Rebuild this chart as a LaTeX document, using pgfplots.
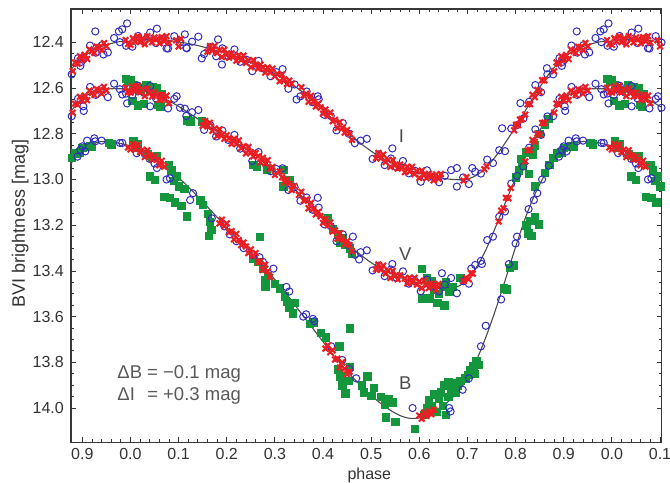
\documentclass[border=0pt]{standalone}
\usepackage{fontspec}
\setmainfont{Liberation Sans}
\usepackage{pgfplots}
\usepackage{pgfplotstable}
\pgfplotsset{compat=1.18}
\definecolor{cblue}{RGB}{50,45,190}
\definecolor{cred}{RGB}{235,30,35}
\definecolor{cgreen}{RGB}{20,150,60}
\definecolor{axgray}{RGB}{55,55,55}

% red crosses (phase 0..1), I, V, B bands
\pgfplotstableread{
x y
0.000 12.411
0.005 12.382
0.010 12.397
0.015 12.373
0.020 12.399
0.025 12.383
0.030 12.408
0.035 12.373
0.040 12.388
0.045 12.400
0.050 12.379
0.055 12.386
0.060 12.404
0.065 12.377
0.070 12.395
0.075 12.373
0.080 12.402
0.095 12.391
0.100 12.418
0.105 12.385
0.160 12.441
0.165 12.416
0.170 12.436
0.175 12.416
0.180 12.447
0.185 12.434
0.190 12.464
0.195 12.432
0.200 12.451
0.205 12.467
0.210 12.448
0.215 12.459
0.220 12.480
0.225 12.456
0.230 12.477
0.235 12.458
0.240 12.490
0.245 12.478
0.250 12.509
0.255 12.478
0.260 12.498
0.265 12.515
0.270 12.498
0.275 12.509
0.280 12.532
0.285 12.510
0.290 12.532
0.295 12.515
0.300 12.548
0.305 12.538
0.310 12.570
0.315 12.541
0.320 12.563
0.325 12.582
0.330 12.567
0.335 12.581
0.355 12.596
0.360 12.632
0.365 12.625
0.370 12.660
0.375 12.634
0.380 12.659
0.385 12.681
0.390 12.668
0.395 12.685
0.400 12.712
0.405 12.694
0.410 12.721
0.415 12.707
0.420 12.745
0.425 12.739
0.430 12.774
0.435 12.749
0.440 12.774
0.445 12.795
0.450 12.783
0.455 12.799
0.460 12.826
0.510 12.906
0.515 12.884
0.520 12.908
0.525 12.891
0.530 12.924
0.535 12.914
0.540 12.945
0.545 12.915
0.550 12.936
0.555 12.952
0.560 12.935
0.565 12.946
0.570 12.968
0.575 12.944
0.580 12.965
0.585 12.945
0.590 12.977
0.595 12.964
0.600 12.993
0.605 12.961
0.610 12.980
0.615 12.994
0.620 12.975
0.625 12.984
0.630 13.004
0.635 12.978
0.640 12.997
0.645 12.976
0.692 13.005
0.698 12.990
0.735 12.955
0.740 12.942
0.797 12.785
0.801 12.760
0.805 12.762
0.809 12.738
0.813 12.735
0.820 12.716
0.825 12.671
0.830 12.670
0.835 12.630
0.840 12.640
0.845 12.608
0.850 12.618
0.855 12.566
0.860 12.566
0.880 12.526
0.885 12.488
0.890 12.494
0.895 12.461
0.900 12.478
0.905 12.455
0.910 12.473
0.915 12.431
0.920 12.439
0.925 12.446
0.930 12.419
0.935 12.421
0.940 12.434
0.945 12.403
0.950 12.417
0.990 12.390
0.995 12.407
0.000 12.620
0.005 12.593
0.010 12.612
0.015 12.590
0.020 12.619
0.025 12.606
0.030 12.635
0.035 12.602
0.040 12.621
0.045 12.637
0.050 12.619
0.055 12.630
0.060 12.652
0.065 12.629
0.070 12.651
0.075 12.633
0.080 12.666
0.990 12.598
0.995 12.618
0.150 12.765
0.155 12.744
0.160 12.768
0.165 12.752
0.170 12.787
0.175 12.777
0.180 12.810
0.185 12.781
0.190 12.804
0.195 12.822
0.200 12.806
0.205 12.819
0.210 12.844
0.215 12.822
0.220 12.845
0.225 12.829
0.230 12.863
0.235 12.854
0.240 12.886
0.245 12.858
0.250 12.881
0.255 12.899
0.260 12.884
0.265 12.899
0.270 12.925
0.275 12.905
0.280 12.930
0.285 12.916
0.290 12.953
0.295 12.945
0.300 12.980
0.310 12.965
0.315 12.990
0.320 13.012
0.325 13.000
0.330 13.018
0.335 13.046
0.340 13.028
0.350 13.067
0.355 13.054
0.360 13.093
0.365 13.088
0.370 13.126
0.375 13.102
0.380 13.129
0.385 13.153
0.390 13.142
0.395 13.161
0.400 13.190
0.405 13.173
0.410 13.201
0.415 13.189
0.420 13.228
0.425 13.223
0.430 13.259
0.435 13.235
0.440 13.261
0.445 13.283
0.450 13.270
0.455 13.287
0.460 13.314
0.510 13.393
0.515 13.372
0.520 13.395
0.525 13.377
0.530 13.411
0.535 13.400
0.540 13.431
0.545 13.400
0.550 13.421
0.555 13.437
0.560 13.419
0.570 13.433
0.575 13.455
0.580 13.430
0.585 13.450
0.590 13.430
0.595 13.460
0.600 13.447
0.605 13.475
0.610 13.443
0.615 13.461
0.620 13.475
0.625 13.455
0.630 13.464
0.635 13.483
0.640 13.457
0.692 13.445
0.697 13.430
0.702 13.436
0.707 13.410
0.711 13.412
0.765 13.184
0.770 13.136
0.775 13.126
0.780 13.080
0.785 13.082
0.790 13.037
0.820 12.921
0.825 12.873
0.830 12.870
0.835 12.827
0.840 12.835
0.845 12.799
0.850 12.805
0.855 12.753
0.860 12.751
0.880 12.708
0.885 12.668
0.890 12.673
0.895 12.638
0.900 12.655
0.905 12.633
0.910 12.653
0.915 12.611
0.920 12.621
0.925 12.630
0.930 12.605
0.935 12.609
0.940 12.624
0.945 12.595
0.950 12.611
0.000 12.869
0.005 12.845
0.010 12.867
0.015 12.848
0.020 12.880
0.025 12.870
0.030 12.902
0.035 12.872
0.040 12.894
0.045 12.913
0.050 12.899
0.055 12.913
0.060 12.938
0.065 12.918
0.070 12.944
0.995 12.860
0.185 13.192
0.190 13.176
0.195 13.204
0.200 13.192
0.205 13.231
0.210 13.226
0.215 13.262
0.220 13.238
0.225 13.265
0.230 13.287
0.235 13.276
0.240 13.293
0.245 13.322
0.250 13.306
0.255 13.334
0.260 13.322
0.265 13.362
0.270 13.358
0.275 13.396
0.280 13.373
0.285 13.402
0.290 13.426
0.405 13.740
0.410 13.726
0.415 13.756
0.420 13.747
0.425 13.788
0.430 13.784
0.435 13.823
0.440 13.800
0.445 13.828
0.450 13.852
0.455 13.841
0.600 14.033
0.605 14.047
0.610 14.020
0.615 14.035
0.620 14.015
0.625 14.027
0.630 14.007
}\Tred

% blue open circles (phase 0..1)
\pgfplotstableread{
x y
0.004 12.419
0.016 12.372
0.028 12.396
0.041 12.357
0.053 12.403
0.066 12.384
0.078 12.427
0.091 12.373
0.103 12.401
0.116 12.424
0.128 12.397
0.141 12.375
0.153 12.451
0.166 12.421
0.178 12.461
0.191 12.426
0.203 12.460
0.216 12.431
0.228 12.485
0.241 12.476
0.253 12.526
0.266 12.481
0.278 12.516
0.291 12.548
0.303 12.530
0.316 12.517
0.328 12.603
0.341 12.584
0.353 12.636
0.366 12.615
0.378 12.662
0.391 12.649
0.403 12.717
0.416 12.722
0.428 12.785
0.441 12.753
0.453 12.799
0.466 12.841
0.478 12.830
0.491 12.822
0.503 12.910
0.516 12.890
0.528 12.937
0.541 12.908
0.553 12.946
0.566 12.919
0.578 12.973
0.591 12.962
0.603 13.010
0.616 12.960
0.628 12.989
0.641 13.012
0.653 12.984
0.666 12.959
0.678 13.031
0.691 12.991
0.703 13.020
0.716 12.966
0.728 12.974
0.741 12.913
0.753 12.928
0.766 12.872
0.778 12.876
0.791 12.777
0.803 12.762
0.816 12.734
0.828 12.660
0.841 12.587
0.853 12.618
0.866 12.540
0.878 12.540
0.891 12.469
0.903 12.472
0.916 12.414
0.928 12.445
0.941 12.412
0.953 12.444
0.966 12.381
0.978 12.399
0.991 12.415
0.927 12.352
0.983 12.343
0.993 12.317
0.055 12.340
0.113 12.365
0.182 12.387
0.898 12.485
0.896 12.503
0.944 12.453
0.075 12.426
0.117 12.426
0.148 12.470
0.190 12.497
0.976 12.352
0.544 12.864
0.389 12.636
0.345 12.650
0.678 12.950
0.710 12.950
0.772 12.776
0.810 12.666
0.865 12.513
0.004 12.630
0.016 12.590
0.028 12.621
0.041 12.591
0.053 12.645
0.066 12.637
0.078 12.689
0.091 12.647
0.103 12.686
0.116 12.722
0.128 12.706
0.141 12.696
0.153 12.783
0.166 12.763
0.178 12.812
0.191 12.786
0.203 12.827
0.216 12.805
0.228 12.865
0.241 12.862
0.253 12.919
0.266 12.880
0.278 12.924
0.291 12.964
0.303 12.954
0.316 12.951
0.328 13.046
0.341 13.034
0.353 13.093
0.366 13.079
0.378 13.132
0.391 13.123
0.403 13.196
0.416 13.204
0.428 13.270
0.441 13.240
0.453 13.287
0.466 13.329
0.478 13.318
0.491 13.310
0.503 13.398
0.516 13.377
0.528 13.423
0.541 13.394
0.553 13.430
0.566 13.402
0.578 13.456
0.591 13.443
0.603 13.489
0.616 13.438
0.628 13.467
0.641 13.489
0.653 13.460
0.666 13.431
0.678 13.498
0.691 13.445
0.703 13.456
0.716 13.374
0.728 13.356
0.741 13.265
0.753 13.250
0.766 13.163
0.778 13.140
0.791 13.018
0.803 12.984
0.816 12.943
0.828 12.861
0.841 12.781
0.853 12.805
0.866 12.724
0.878 12.723
0.891 12.647
0.903 12.649
0.916 12.595
0.928 12.630
0.941 12.603
0.953 12.640
0.966 12.581
0.978 12.605
0.991 12.624
0.902 12.680
0.903 12.700
0.983 12.628
0.993 12.667
0.041 12.680
0.096 12.636
0.113 12.690
0.389 13.080
0.462 13.250
0.544 13.370
0.475 13.350
0.647 13.410
0.708 13.390
0.730 13.370
0.013 12.885
0.030 12.890
0.040 12.910
0.050 12.930
0.055 12.950
0.075 13.000
0.082 12.995
0.124 13.090
0.130 13.060
0.169 13.170
0.195 13.205
0.206 13.240
0.220 13.270
0.235 13.300
0.255 13.330
0.268 13.340
0.275 13.360
0.297 13.390
0.324 13.470
0.330 13.490
0.359 13.600
0.365 13.590
0.379 13.610
0.382 13.620
0.417 13.730
0.440 13.790
0.455 13.830
0.469 13.870
0.586 14.000
0.662 14.000
0.665 14.015
0.690 13.920
0.703 13.870
0.728 13.730
0.738 13.640
0.770 13.525
0.786 13.370
0.800 13.280
0.803 13.250
0.827 13.130
0.838 13.090
0.845 13.060
0.855 13.000
0.869 12.940
0.890 12.900
0.896 12.870
0.900 12.855
0.906 12.877
0.910 12.830
0.925 12.820
0.927 12.833
0.940 12.830
0.978 12.840
0.983 12.840
}\Tblue

% green filled squares (phase 0..1)
\pgfplotstableread{
x y
0.000 12.565
0.006 12.585
0.012 12.600
0.004 12.655
0.015 12.675
0.020 12.610
0.027 12.668
0.033 12.585
0.040 12.600
0.045 12.595
0.050 12.615
0.055 12.600
0.058 12.672
0.062 12.680
0.065 12.625
0.990 12.560
0.995 12.570
0.118 12.740
0.124 12.745
0.148 12.745
0.255 12.935
0.262 12.945
0.283 12.955
0.317 12.957
0.330 13.000
0.317 13.030
0.410 13.170
0.420 13.215
0.430 13.240
0.435 13.275
0.440 13.255
0.445 13.285
0.455 13.300
0.460 13.325
0.605 13.390
0.605 13.520
0.615 13.430
0.622 13.520
0.625 13.445
0.630 13.480
0.637 13.540
0.640 13.500
0.648 13.470
0.652 13.550
0.655 13.450
0.662 13.490
0.669 13.470
0.685 13.430
0.800 12.990
0.806 12.960
0.810 12.910
0.814 12.940
0.822 12.880
0.827 12.975
0.835 12.890
0.840 12.850
0.850 12.800
0.860 12.760
0.868 12.735
0.900 12.862
0.915 12.855
0.955 12.840
0.960 12.845
0.006 12.830
0.012 12.860
0.015 12.845
0.035 12.890
0.045 12.905
0.055 12.895
0.040 12.985
0.050 13.000
0.080 12.935
0.085 12.960
0.095 12.985
0.090 13.005
0.100 13.030
0.112 13.040
0.070 13.075
0.082 13.080
0.092 13.100
0.105 13.115
0.117 13.160
0.145 13.090
0.150 13.110
0.160 13.150
0.165 13.185
0.168 13.220
0.163 13.245
0.268 13.250
0.255 13.345
0.265 13.360
0.275 13.390
0.285 13.420
0.280 13.440
0.280 13.470
0.300 13.455
0.310 13.475
0.320 13.510
0.325 13.535
0.330 13.560
0.337 13.585
0.340 13.540
0.372 13.630
0.380 13.625
0.395 13.670
0.405 13.690
0.430 13.830
0.455 13.650
0.434 13.730
0.436 13.860
0.440 13.900
0.446 13.935
0.452 13.880
0.455 13.820
0.480 13.900
0.485 13.930
0.492 13.860
0.500 13.945
0.505 13.910
0.520 13.950
0.528 13.985
0.535 13.960
0.545 13.975
0.530 14.040
0.550 14.060
0.590 14.090
0.610 14.030
0.615 14.000
0.620 13.965
0.625 13.990
0.630 13.940
0.635 14.015
0.640 13.960
0.645 13.930
0.648 13.990
0.652 13.900
0.655 14.030
0.660 13.950
0.665 13.920
0.670 13.890
0.675 13.930
0.660 13.885
0.680 13.900
0.685 13.880
0.695 13.870
0.700 13.855
0.705 13.835
0.712 13.815
0.718 13.795
0.722 13.810
0.715 13.850
0.775 13.475
0.782 13.480
0.788 13.385
0.795 13.375
0.822 13.200
0.830 13.180
0.840 13.165
0.848 13.195
0.826 13.235
0.832 13.245
0.840 13.030
0.860 12.970
0.870 12.935
0.878 12.905
0.920 12.855
0.885 12.885
0.895 12.880
}\Tgreen

\begin{document}
\begin{tikzpicture}
\begin{axis}[
  name=ax,
  scale only axis, width=590.7pt, height=433.3pt,
  xmin=-0.1235, xmax=1.1035, ymin=12.254, ymax=14.150,
  y dir=reverse,
  xtick={-0.1,0,0.1,0.2,0.3,0.4,0.5,0.6,0.7,0.8,0.9,1.0,1.1},
  xticklabels={0.9,0.0,0.1,0.2,0.3,0.4,0.5,0.6,0.7,0.8,0.9,0.0,0.1},
  minor x tick num=4,
  ytick={12.4,12.6,12.8,13.0,13.2,13.4,13.6,13.8,14.0},
  minor y tick num=3,
  /pgf/number format/.cd, fixed, fixed zerofill, precision=1, assume math mode=true,
  /pgfplots/.cd,
  tick label style={font=\fontsize{16}{19}\selectfont, text=black!80},
  xticklabel style={inner sep=0pt, yshift=-6pt},
  yticklabel style={inner sep=0pt, xshift=-7pt},
  major tick length=5pt, minor tick length=3pt,
  tick style={axgray, line width=0.8pt},
  axis line style={axgray, line width=1.3pt},
  xlabel={phase},
  xlabel style={at={(axis description cs:0.505,0)}, anchor=north, yshift=-25.7pt, inner sep=0pt, font=\fontsize{16}{19}\selectfont, text=black!80},
  ylabel={BVI brightness [mag]},
  ylabel style={at={(axis description cs:-0.0860,0.505)}, anchor=center, inner sep=0pt, font=\fontsize{18}{22}\selectfont, text=black!80},
]
% green squares
\addplot[only marks, mark=square*, mark size=3.7pt, color=cgreen, restrict x to domain=-0.14:1.12] table {\Tgreen};
\addplot[only marks, mark=square*, mark size=3.7pt, color=cgreen, restrict x to domain=-0.14:1.12] table[x expr=\thisrow{x}-1] {\Tgreen};
\addplot[only marks, mark=square*, mark size=3.7pt, color=cgreen, restrict x to domain=-0.14:1.12] table[x expr=\thisrow{x}+1] {\Tgreen};
% blue circles
\addplot[only marks, mark=o, mark size=3.6pt, line width=1pt, color=cblue, restrict x to domain=-0.14:1.12] table {\Tblue};
\addplot[only marks, mark=o, mark size=3.6pt, line width=1pt, color=cblue, restrict x to domain=-0.14:1.12] table[x expr=\thisrow{x}-1] {\Tblue};
\addplot[only marks, mark=o, mark size=3.6pt, line width=1pt, color=cblue, restrict x to domain=-0.14:1.12] table[x expr=\thisrow{x}+1] {\Tblue};
% red crosses
\addplot[only marks, mark=x, mark size=4pt, line width=2.1pt, color=cred, restrict x to domain=-0.14:1.12] table {\Tred};
\addplot[only marks, mark=x, mark size=4pt, line width=2.1pt, color=cred, restrict x to domain=-0.14:1.12] table[x expr=\thisrow{x}-1] {\Tred};
\addplot[only marks, mark=x, mark size=4pt, line width=2.1pt, color=cred, restrict x to domain=-0.14:1.12] table[x expr=\thisrow{x}+1] {\Tred};
% model curves
\addplot[smooth, no marks, line width=1.1pt, color=black!70] coordinates {
(-0.124,12.521) (-0.12,12.510) (-0.10,12.468) (-0.08,12.438) (-0.06,12.418) (-0.04,12.405) (-0.02,12.396) (0.00,12.395)
(0.02,12.389) (0.04,12.387) (0.06,12.388) (0.08,12.392) (0.10,12.398) (0.12,12.405) (0.14,12.414) (0.16,12.425) (0.18,12.437)
(0.20,12.450) (0.22,12.464) (0.24,12.480) (0.26,12.497) (0.28,12.516) (0.30,12.538) (0.32,12.562) (0.34,12.590) (0.36,12.622)
(0.38,12.658) (0.40,12.696) (0.42,12.735) (0.44,12.773) (0.46,12.810) (0.48,12.845) (0.50,12.876) (0.52,12.903) (0.54,12.925)
(0.56,12.944) (0.58,12.960) (0.60,12.973) (0.62,12.984) (0.64,12.992) (0.66,12.998) (0.68,13.001) (0.70,12.998) (0.72,12.980)
(0.74,12.945) (0.76,12.895) (0.78,12.835) (0.80,12.770) (0.82,12.700) (0.84,12.630) (0.86,12.565) (0.88,12.510) (0.90,12.468)
(0.92,12.438) (0.94,12.418) (0.96,12.405) (0.98,12.396) (1.00,12.395) (1.02,12.389) (1.04,12.387) (1.06,12.388) (1.08,12.392)
(1.10,12.398) (1.104,12.399)};
\addplot[smooth, no marks, line width=1.1pt, color=black!70] coordinates {
(-0.124,12.703) (-0.12,12.692) (-0.10,12.645) (-0.08,12.620) (-0.06,12.608) (-0.04,12.603) (-0.02,12.603) (0.00,12.604)
(0.02,12.609) (0.04,12.620) (0.06,12.636) (0.08,12.656) (0.10,12.680) (0.12,12.707) (0.14,12.735) (0.16,12.763) (0.18,12.790)
(0.20,12.815) (0.22,12.840) (0.24,12.866) (0.26,12.893) (0.28,12.925) (0.30,12.960) (0.32,12.999) (0.34,13.040) (0.36,13.083)
(0.38,13.128) (0.40,13.174) (0.42,13.218) (0.44,13.260) (0.46,13.298) (0.48,13.333) (0.50,13.364) (0.52,13.390) (0.54,13.411)
(0.56,13.428) (0.58,13.442) (0.60,13.453) (0.62,13.462) (0.64,13.469) (0.66,13.473) (0.68,13.468) (0.70,13.440) (0.72,13.380)
(0.74,13.300) (0.76,13.200) (0.78,13.095) (0.80,12.995) (0.82,12.905) (0.84,12.825) (0.86,12.750) (0.88,12.692) (0.90,12.645)
(0.92,12.620) (0.94,12.608) (0.96,12.603) (0.98,12.603) (1.00,12.604) (1.02,12.609) (1.04,12.620) (1.06,12.636) (1.08,12.656)
(1.10,12.680) (1.104,12.685)};
\addplot[smooth, no marks, line width=1.1pt, color=black!70] coordinates {
(-0.124,12.932) (-0.12,12.920) (-0.10,12.868) (-0.08,12.845) (-0.06,12.834) (-0.04,12.835) (-0.02,12.843) (0.00,12.853)
(0.02,12.870) (0.04,12.893) (0.06,12.922) (0.08,12.955) (0.10,12.992) (0.12,13.032) (0.14,13.075) (0.16,13.120) (0.18,13.165)
(0.20,13.210) (0.22,13.253) (0.24,13.295) (0.26,13.340) (0.28,13.388) (0.30,13.438) (0.32,13.490) (0.34,13.545) (0.36,13.600)
(0.38,13.655) (0.40,13.710) (0.42,13.765) (0.44,13.815) (0.46,13.862) (0.48,13.905) (0.50,13.945) (0.52,13.980) (0.54,14.010)
(0.56,14.033) (0.58,14.045) (0.60,14.043) (0.62,14.027) (0.64,14.003) (0.66,13.972) (0.68,13.930) (0.70,13.870) (0.72,13.785)
(0.74,13.680) (0.76,13.560) (0.78,13.430) (0.80,13.295) (0.82,13.170) (0.84,13.065) (0.86,12.982) (0.88,12.920) (0.90,12.868)
(0.92,12.845) (0.94,12.834) (0.96,12.835) (0.98,12.843) (1.00,12.853) (1.02,12.870) (1.04,12.893) (1.06,12.922) (1.08,12.955)
(1.10,12.992) (1.104,13.000)};
% curve labels and note
\node[font=\fontsize{18.5}{22}\selectfont, text=black!70, inner sep=0pt] at (axis cs:0.563,12.811) {I};
\node[font=\fontsize{18.5}{22}\selectfont, text=black!70, inner sep=0pt] at (axis cs:0.571,13.328) {V};
\node[font=\fontsize{18.5}{22}\selectfont, text=black!70, inner sep=0pt] at (axis cs:0.571,13.892) {B};
\node[anchor=west, inner sep=0pt, font=\fontsize{18.5}{22}\selectfont, text=black!65] at (axis cs:-0.0275,13.898)
  {\begin{tabular}{@{}l@{ }l@{}}ΔB & = −0.1 mag\\ ΔI & = +0.3 mag\end{tabular}};
\end{axis}
\pgfresetboundingbox
\path[use as bounding box] ([xshift=-71pt,yshift=-40.7pt]ax.south west) rectangle ([xshift=8.3pt,yshift=9pt]ax.north east);
\end{tikzpicture}
\end{document}
